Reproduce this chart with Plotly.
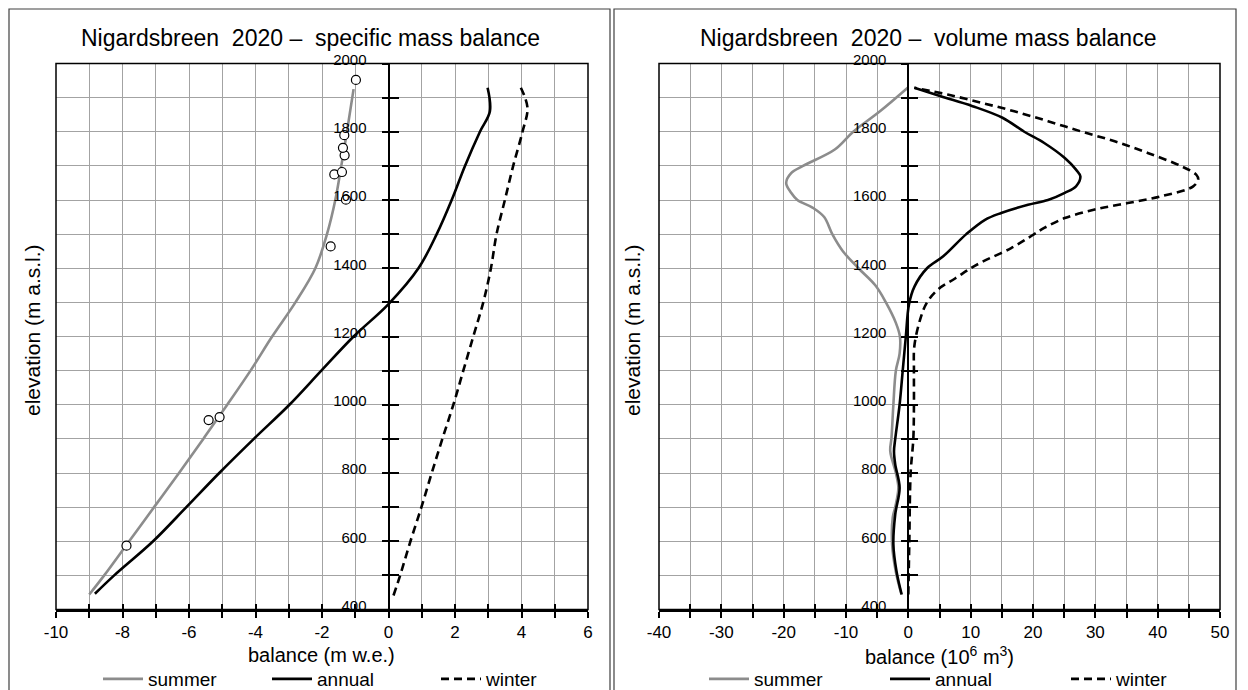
import plotly.graph_objects as go

W, H = 1248, 690

# ---------------- data: specific mass balance (m w.e.) ----------------
spec_summer_elev = [444, 500, 600, 700, 800, 900, 1000, 1100, 1200, 1300, 1400, 1500, 1600, 1700, 1800, 1925]
spec_summer_val = [-9.0, -8.55, -7.8, -7.05, -6.3, -5.57, -4.85, -4.15, -3.5, -2.8, -2.2, -1.85, -1.6, -1.42, -1.25, -1.05]

spec_annual_elev = [446, 500, 600, 700, 800, 900, 1000, 1100, 1200, 1295, 1400, 1500, 1600, 1700, 1800, 1860, 1929]
spec_annual_val = [-8.83, -8.25, -7.08, -6.08, -5.09, -4.05, -2.98, -2.02, -1.05, 0.0, 0.9, 1.45, 1.9, 2.3, 2.75, 3.05, 2.98]

spec_winter_elev = [441, 500, 600, 700, 800, 900, 1000, 1100, 1200, 1300, 1400, 1500, 1600, 1700, 1800, 1870, 1929]
spec_winter_val = [0.15, 0.35, 0.66, 0.99, 1.3, 1.62, 1.95, 2.25, 2.55, 2.85, 3.08, 3.25, 3.5, 3.75, 4.03, 4.18, 3.98]

# point measurements of summer balance
obs_elev = [587, 955, 964, 1464, 1601, 1675, 1682, 1731, 1753, 1790, 1952]
obs_val = [-7.88, -5.41, -5.08, -1.74, -1.28, -1.63, -1.40, -1.32, -1.37, -1.33, -0.98]

# ---------------- data: volume mass balance (10^6 m3) ----------------
vol_summer_elev = [444, 510, 590, 670, 700, 757, 800, 864, 903, 1000, 1100, 1150, 1200, 1240, 1300, 1350, 1400,
                   1450, 1500, 1550, 1577, 1600, 1621, 1650, 1679, 1700, 1748, 1800, 1860, 1929]
vol_summer_val = [-1.1, -2.0, -2.6, -2.5, -2.1, -1.6, -2.0, -2.9, -2.7, -2.4, -2.0, -1.4, -1.35, -2.0, -3.6, -5.3, -8.0,
                  -10.5, -12.2, -13.5, -15.3, -17.8, -18.8, -19.6, -18.8, -16.9, -11.8, -8.84, -4.55, -0.1]

vol_annual_elev = [444, 512, 591, 679, 757, 825, 864, 900, 1000, 1100, 1200, 1294, 1347, 1400, 1435, 1500,
                   1542, 1562, 1586, 1600, 1621, 1640, 1669, 1689, 1723, 1767, 1800, 1841, 1875, 1904, 1929]
vol_annual_val = [-1.07, -1.9, -2.4, -2.1, -1.4, -2.1, -2.3, -2.1, -1.4, -0.9, -0.4, 0.1, 1.0, 3.0, 5.6, 9.3,
                  12.3, 14.9, 19.2, 22.4, 25.1, 26.9, 27.6, 26.9, 25.1, 21.8, 18.6, 15.1, 10.3, 5.2, 0.96]

vol_winter_elev = [444, 600, 800, 900, 1000, 1100, 1171, 1250, 1300, 1340, 1370, 1400, 1420, 1459, 1500, 1518, 1547,
                   1572, 1591, 1611, 1640, 1660, 1674, 1699, 1738, 1772, 1801, 1831, 1860, 1885, 1909, 1929]
vol_winter_val = [0.0, 0.16, 0.37, 0.8, 0.9, 0.9, 0.96, 1.9, 3.0, 4.9, 7.5, 10.0, 12.0, 16.5, 20.2, 21.8, 25.1,
                  29.9, 35.2, 40.6, 45.7, 46.5, 46.2, 43.8, 38.4, 33.1, 27.7, 22.4, 17.0, 11.7, 6.3, 0.96]

# axis tick labels
left_ticks = [-10, -8, -6, -4, -2, 0, 2, 4, 6]
left_ticklabels = ["-10", "-8", "-6", "-4", "-2", "0", "2", "4", "6"]
right_ticks = [-40, -30, -20, -10, 0, 10, 20, 30, 40, 50]
right_ticklabels = ["-40", "-30", "-20", "-10", "0", "10", "20", "30", "40", "50"]
elev_ticks = [400, 600, 800, 1000, 1200, 1400, 1600, 1800, 2000]
elev_ticklabels = ["400", "600", "800", "1000", "1200", "1400", "1600", "1800", "2000"]

titles = ["Nigardsbreen  2020 \u2013  specific mass balance", "Nigardsbreen  2020 \u2013  volume mass balance"]
xtitles = ["balance (m w.e.)", "balance (10<sup>6</sup> m<sup>3</sup>)"]
ytitle = "elevation (m a.s.l.)"
legend_names = ["summer", "annual", "winter"]

left_range = [-10, 6]
right_range = [-40, 50]
elev_range = [400, 2000]

# ---------------- styling ----------------
FONT = "Liberation Sans, Arial, sans-serif"
GRID = "#a3a3a3"
GREY = "#8c8c8c"

def fx(p):
    return p / W

def fy(p):
    return 1 - p / H

L_DOM = [fx(56), fx(588)]
R_DOM = [fx(659), fx(1220)]
Y_DOM = [fy(609.5), fy(63.5)]

def zero_pos(dom, rng):
    return dom[0] + (0 - rng[0]) / (rng[1] - rng[0]) * (dom[1] - dom[0])

fig = go.Figure()

line_w = 2.6
spline = dict(shape="spline", smoothing=1.0)
# left panel
fig.add_trace(go.Scatter(x=spec_summer_val, y=spec_summer_elev, mode="lines", name=legend_names[0],
                         line=dict(color=GREY, width=line_w, **spline),
                         xaxis="x", yaxis="y", legend="legend"))
fig.add_trace(go.Scatter(x=spec_annual_val, y=spec_annual_elev, mode="lines", name=legend_names[1],
                         line=dict(color="black", width=line_w, **spline),
                         xaxis="x", yaxis="y", legend="legend"))
fig.add_trace(go.Scatter(x=spec_winter_val, y=spec_winter_elev, mode="lines", name=legend_names[2],
                         line=dict(color="black", width=line_w, dash="8px,5px", **spline),
                         xaxis="x", yaxis="y", legend="legend"))
fig.add_trace(go.Scatter(x=obs_val, y=obs_elev, mode="markers", showlegend=False,
                         marker=dict(symbol="circle", size=9, color="white", line=dict(color="black", width=1.2)),
                         xaxis="x", yaxis="y"))
# right panel
fig.add_trace(go.Scatter(x=vol_summer_val, y=vol_summer_elev, mode="lines", name=legend_names[0],
                         line=dict(color=GREY, width=line_w, **spline),
                         xaxis="x2", yaxis="y2", legend="legend2"))
fig.add_trace(go.Scatter(x=vol_annual_val, y=vol_annual_elev, mode="lines", name=legend_names[1],
                         line=dict(color="black", width=line_w, **spline),
                         xaxis="x2", yaxis="y2", legend="legend2"))
fig.add_trace(go.Scatter(x=vol_winter_val, y=vol_winter_elev, mode="lines", name=legend_names[2],
                         line=dict(color="black", width=line_w, dash="8px,5px", **spline),
                         xaxis="x2", yaxis="y2", legend="legend2"))
# empty hosts for the overlay axes that draw the inner halves of the crossing ticks
fig.add_trace(go.Scatter(x=[None], y=[None], mode="lines", showlegend=False, hoverinfo="skip",
                         xaxis="x3", yaxis="y3"))
fig.add_trace(go.Scatter(x=[None], y=[None], mode="lines", showlegend=False, hoverinfo="skip",
                         xaxis="x4", yaxis="y4"))

TICKF = dict(family=FONT, size=17, color="black")
YTICKF = dict(family=FONT, size=15, color="black")

def xaxis_main(dom, rng, tv, tt, mdt, anchor):
    return dict(domain=dom, range=rng, anchor=anchor, tickmode="array", tickvals=tv, ticktext=tt,
                showgrid=True, gridcolor=GRID, gridwidth=1, ticks="outside", ticklen=6, tickwidth=1.5,
                tickcolor="black", showline=True, linecolor="black", linewidth=2, zeroline=False,
                tickfont=TICKF, automargin=False,
                minor=dict(dtick=mdt, tick0=0, showgrid=True, gridcolor=GRID, gridwidth=1, ticks="outside",
                           ticklen=6, tickwidth=1.5, tickcolor="black"),
                fixedrange=True)

def xaxis_over(dom, rng, tv, mdt, over, anchor):
    return dict(domain=dom, range=rng, overlaying=over, anchor=anchor, tickmode="array", tickvals=tv,
                showgrid=False, ticks="inside", ticklen=6, tickwidth=1.5, tickcolor="black",
                showticklabels=False, showline=False, zeroline=False, automargin=False,
                minor=dict(dtick=mdt, tick0=0, showgrid=False, ticks="inside", ticklen=6, tickwidth=1.5,
                           tickcolor="black"),
                fixedrange=True)

def yaxis_main(pos):
    return dict(domain=Y_DOM, range=elev_range, anchor="free", position=pos, tickmode="array",
                tickvals=elev_ticks, ticktext=elev_ticklabels,
                showgrid=True, gridcolor=GRID, gridwidth=1, ticks="outside", ticklen=6, tickwidth=1.5,
                tickcolor="black", showline=True, linecolor="black", linewidth=2, zeroline=False,
                tickfont=YTICKF, ticklabelstandoff=12, ticklabelshift=-4, automargin=False,
                minor=dict(dtick=100, tick0=0, showgrid=True, gridcolor=GRID, gridwidth=1, ticks="outside",
                           ticklen=6, tickwidth=1.5, tickcolor="black"),
                fixedrange=True)

def yaxis_over(pos, over):
    return dict(domain=Y_DOM, range=elev_range, overlaying=over, anchor="free", position=pos,
                tickmode="array", tickvals=elev_ticks,
                showgrid=False, ticks="inside", ticklen=9, tickwidth=1.5, tickcolor="black",
                showticklabels=False, showline=False, zeroline=False, automargin=False,
                minor=dict(dtick=100, tick0=0, showgrid=False, ticks="inside", ticklen=9, tickwidth=1.5,
                           tickcolor="black"),
                fixedrange=True)

lpos = zero_pos(L_DOM, left_range)
rpos = zero_pos(R_DOM, right_range)

annotations = [
    dict(text=titles[0], x=fx(310), y=fy(38), xref="paper", yref="paper", showarrow=False,
         font=dict(family=FONT, size=23, color="black"), xanchor="center", yanchor="middle"),
    dict(text=titles[1], x=fx(928), y=fy(38), xref="paper", yref="paper", showarrow=False,
         font=dict(family=FONT, size=23, color="black"), xanchor="center", yanchor="middle"),
    dict(text=xtitles[0], x=(L_DOM[0] + L_DOM[1]) / 2, y=fy(655), xref="paper", yref="paper", showarrow=False,
         font=dict(family=FONT, size=20, color="black"), xanchor="center", yanchor="middle"),
    dict(text=xtitles[1], x=(R_DOM[0] + R_DOM[1]) / 2, y=fy(655), xref="paper", yref="paper", showarrow=False,
         font=dict(family=FONT, size=20, color="black"), xanchor="center", yanchor="middle"),
    dict(text=ytitle, x=fx(32), y=fy(330), xref="paper", yref="paper", showarrow=False, textangle=-90,
         font=dict(family=FONT, size=21, color="black"), xanchor="center", yanchor="middle"),
    dict(text=ytitle, x=fx(632), y=fy(330), xref="paper", yref="paper", showarrow=False, textangle=-90,
         font=dict(family=FONT, size=21, color="black"), xanchor="center", yanchor="middle"),
]

shapes = [
    dict(type="rect", xref="paper", yref="paper", x0=fx(9), x1=fx(610), y0=fy(720), y1=fy(9),
         line=dict(color="#404040", width=1.2), layer="below"),
    dict(type="rect", xref="paper", yref="paper", x0=fx(614), x1=fx(1236), y0=fy(720), y1=fy(9),
         line=dict(color="#404040", width=1.2), layer="below"),
    dict(type="rect", xref="x domain", yref="y domain", x0=0, x1=1, y0=0, y1=1,
         line=dict(color="black", width=1.5)),
    dict(type="rect", xref="x2 domain", yref="y2 domain", x0=0, x1=1, y0=0, y1=1,
         line=dict(color="black", width=1.5)),
]

LEGF = dict(family=FONT, size=19, color="black")

fig.update_layout(
    width=W, height=H,
    margin=dict(l=0, r=0, t=0, b=0, autoexpand=False),
    paper_bgcolor="white", plot_bgcolor="white",
    font=dict(family=FONT, color="black"),
    xaxis=xaxis_main(L_DOM, left_range, left_ticks, left_ticklabels, 1, "y"),
    yaxis=yaxis_main(lpos),
    xaxis2=xaxis_main(R_DOM, right_range, right_ticks, right_ticklabels, 5, "y2"),
    yaxis2=yaxis_main(rpos),
    xaxis3=xaxis_over(L_DOM, left_range, left_ticks, 1, "x", "y3"),
    yaxis3=yaxis_over(lpos, "y"),
    xaxis4=xaxis_over(R_DOM, right_range, right_ticks, 5, "x2", "y4"),
    yaxis4=yaxis_over(rpos, "y2"),
    legend=dict(orientation="h", xref="container", yref="container", x=fx(98), y=fy(679),
                xanchor="left", yanchor="middle", entrywidth=114, font=LEGF,
                bgcolor="rgba(0,0,0,0)", itemwidth=40, tracegroupgap=0),
    legend2=dict(orientation="h", xref="container", yref="container", x=fx(704), y=fy(679),
                 xanchor="left", yanchor="middle", entrywidth=126, font=LEGF,
                 bgcolor="rgba(0,0,0,0)", itemwidth=40, tracegroupgap=0),
    annotations=annotations,
    shapes=shapes,
    showlegend=True,
)

fig.write_html("out.html", config={"displayModeBar": False},
               post_script="document.body.style.margin='0px';document.body.style.overflow='hidden';")
